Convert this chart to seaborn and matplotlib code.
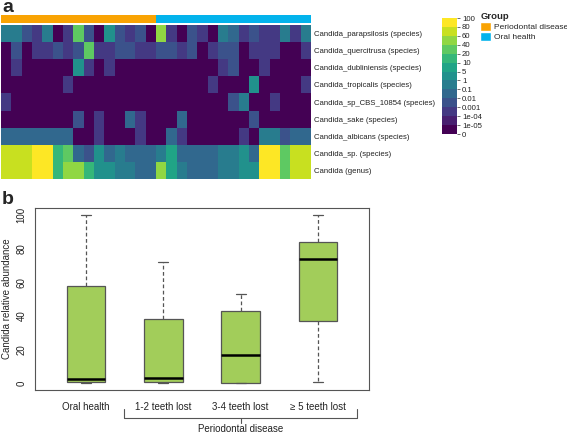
import matplotlib
matplotlib.use("Agg")
import matplotlib.pyplot as plt
import numpy as np
import pandas as pd
import seaborn as sns
from matplotlib.colors import BoundaryNorm, ListedColormap
from matplotlib.patches import Patch
from matplotlib.transforms import blended_transform_factory

# panel a: candida taxa x samples, relative abundance (%)
species = [
    "Candida_parapsilosis (species)",
    "Candida_quercitrusa (species)",
    "Candida_dubliniensis (species)",
    "Candida_tropicalis (species)",
    "Candida_sp_CBS_10854 (species)",
    "Candida_sake (species)",
    "Candida_albicans (species)",
    "Candida_sp. (species)",
    "Candida (genus)",
]
sample_group = ["Periodontal disease"] * 15 + ["Oral health"] * 15

parapsilosis = [0.5, 0.5, 0.005, 5e-4, 0.5, 0, 5e-4, 30, 0.005, 0, 3, 0.005, 5e-4, 0.005, 0,
                50, 5e-4, 0, 0.005, 5e-4, 0, 0.5, 0.05, 5e-4, 0.005, 5e-4, 5e-4, 0.5, 5e-4, 0.5]
quercitrusa = [0, 0.005, 0, 5e-4, 5e-4, 0.005, 5e-4, 0.005, 30, 5e-4, 5e-4, 0.005, 0.005, 5e-4, 5e-4,
               0.005, 0.005, 5e-4, 0.005, 0, 5e-4, 0.005, 0.005, 0, 5e-4, 5e-4, 5e-4, 0, 0, 5e-4]
dubliniensis = [0, 5e-4, 0, 0, 0, 0, 0, 3, 5e-4, 0, 5e-4, 0, 0, 0, 0,
                0, 0, 0, 0, 0, 0, 5e-4, 0.005, 0, 0, 5e-4, 0, 0, 0, 0]
tropicalis = [0, 0, 0, 0, 0, 0, 5e-4, 0, 0, 0, 0, 0, 0, 0, 0,
              0, 0, 0, 0, 0, 5e-4, 0, 0, 0, 3, 0, 0, 0, 0, 5e-4]
sp_cbs = [5e-4, 0, 0, 0, 0, 0, 0, 0, 0, 0, 0, 0, 0, 0, 0,
          0, 0, 0, 0, 0, 0, 0, 0.005, 0.5, 0, 0, 5e-4, 0, 0, 0]
sake = [0, 0, 0, 0, 0, 0, 0, 0.005, 0, 5e-4, 0, 0, 0.05, 5e-4, 0,
        0, 0, 0.05, 0, 0, 0, 0, 0, 0, 0.005, 0, 0, 0, 0, 0]
albicans = [0.05, 0.05, 0.05, 0.05, 0.05, 0.05, 0.05, 0, 0, 5e-4, 0, 0, 0, 5e-4, 0,
            0, 0.05, 5e-4, 0, 0, 0, 0, 0, 5e-4, 0, 0.5, 0.5, 0.005, 0.05, 0.05]
candida_sp = [70, 70, 70, 90, 90, 15, 30, 0.05, 0.005, 3, 0.05, 0.5, 0.05, 0.05, 0.05,
              0.5, 7, 0.05, 0.05, 0.05, 0.05, 0.5, 0.5, 3, 0.05, 90, 90, 30, 70, 70]
candida_genus = [70, 70, 70, 90, 90, 15, 50, 50, 15, 3, 3, 0.5, 0.5, 0.05, 0.05,
                 50, 7, 0.5, 0.05, 0.05, 0.05, 0.5, 0.5, 3, 3, 90, 90, 30, 70, 70]

level_bounds = [0, 1e-05, 1e-04, 0.001, 0.01, 0.1, 1, 5, 10, 20, 40, 60, 80, 100]
level_labels = ["0", "1e-05", "1e-04", "0.001", "0.01", "0.1", "1", "5",
                "10", "20", "40", "60", "80", "100"]

# panel b: box summaries (min, q1, median, q3, max)
groups = ["Oral health", "1-2 teeth lost", "3-4 teeth lost", "\u2265 5 teeth lost"]
oral_health = [0, 0.8, 2.3, 58, 100]
teeth_1_2 = [0, 0.8, 3.2, 38, 72]
teeth_3_4 = [0, 0.2, 16.8, 43, 53]
teeth_5_up = [0.6, 37, 74, 84, 100]

orange, blue = "#F9A303", "#03B3EC"
green = "#A2CD5A"
gray = "#555555"

sns.set_style("white")
plt.rcParams["font.family"] = ["Liberation Sans", "DejaVu Sans"]

W, H = 567, 433
fig = plt.figure(figsize=(W / 100, H / 100), dpi=100)


def box(l, t, r, b):
    return [l / W, 1 - b / H, (r - l) / W, (b - t) / H]


# --- panel a ---
ax_bar = fig.add_axes(box(1, 15, 311, 23))
ax_hm = fig.add_axes(box(1, 25, 311, 179))
cax = fig.add_axes(box(442, 18, 457, 134))

codes = np.array([[0 if g == "Periodontal disease" else 1 for g in sample_group]])
sns.heatmap(codes, cmap=ListedColormap([orange, blue]), cbar=False,
            xticklabels=False, yticklabels=False, ax=ax_bar)

abund = pd.DataFrame([parapsilosis, quercitrusa, dubliniensis, tropicalis, sp_cbs,
                      sake, albicans, candida_sp, candida_genus], index=species)
cols = plt.get_cmap("viridis")(np.linspace(0, 1, len(level_bounds) - 1))
cmap = ListedColormap(cols)
norm = BoundaryNorm(level_bounds, cmap.N)
sns.heatmap(abund, cmap=cmap, norm=norm, ax=ax_hm, cbar_ax=cax,
            xticklabels=False, yticklabels=species)
ax_hm.yaxis.tick_right()
ax_hm.tick_params(axis="y", length=0, pad=2.5, labelsize=5.6, rotation=0, colors="#222222")

cbar = ax_hm.collections[0].colorbar
cbar.set_ticks(level_bounds)
cbar.set_ticklabels(level_labels)
cbar.outline.set_visible(False)
cax.tick_params(labelsize=5.6, length=2.5, width=0.6, color=gray, pad=1, labelcolor="#222222")

fig.legend(handles=[Patch(facecolor=orange, label="Periodontal disease"),
                    Patch(facecolor=blue, label="Oral health")],
           title="Group", loc="upper left", bbox_to_anchor=(477 / W, 1 - 9 / H),
           frameon=False, fontsize=6.0, title_fontproperties={"weight": "bold", "size": 6.8},
           handlelength=1.3, handleheight=1.3, handletextpad=0.3, labelspacing=0.05,
           alignment="left", borderaxespad=0)

fig.text(2 / W, 1 - 12 / H, "a", fontsize=14, fontweight="bold", va="baseline")

# --- panel b ---
ax_box = fig.add_axes(box(35, 208, 369, 390))
df = pd.DataFrame({
    "group": np.repeat(groups, 5),
    "abundance": oral_health + teeth_1_2 + teeth_3_4 + teeth_5_up,
})
sns.boxplot(data=df, x="group", y="abundance", order=groups, width=0.5,
            color=green, saturation=1, linecolor=gray, linewidth=0.9,
            whis=(0, 100), showfliers=False,
            medianprops={"color": "black", "linewidth": 1.8},
            whiskerprops={"linestyle": (0, (3, 2))},
            capwidths=0.13, ax=ax_box)
ax_box.set_xlim(-0.66, 3.66)
ax_box.set_ylim(-4, 104)
ax_box.set_yticks([0, 20, 40, 60, 80, 100])
ax_box.set_xlabel("")
ax_box.set_ylabel("Candida relative abundance", fontsize=7, labelpad=3)
for s in ax_box.spines.values():
    s.set_visible(True)
    s.set_color(gray)
    s.set_linewidth(0.8)
ax_box.tick_params(direction="out", length=4, width=0.7, color=gray,
                   labelsize=7, pad=2, labelcolor="#222222")
ax_box.tick_params(axis="x", pad=5)
ax_box.tick_params(axis="y", labelrotation=90)
for lab in ax_box.get_yticklabels():
    lab.set_va("center")
    lab.set_family(["Liberation Sans", "DejaVu Sans"])

# bracket for the periodontal disease groups
tr = blended_transform_factory(ax_box.transData, ax_box.transAxes)
ax_box.plot([0.49, 0.49, 3.51, 3.51], [-0.104, -0.154, -0.154, -0.104],
            color=gray, lw=0.8, transform=tr, clip_on=False)
ax_box.plot([2, 2], [-0.154, -0.18], color=gray, lw=0.8, transform=tr, clip_on=False)
ax_box.text(2, -0.215, "Periodontal disease", transform=tr, ha="center", va="center",
            fontsize=7, color="#222222")

fig.text(2 / W, 1 - 204 / H, "b", fontsize=14, fontweight="bold", va="baseline")

fig.savefig("out.png", dpi=100)
